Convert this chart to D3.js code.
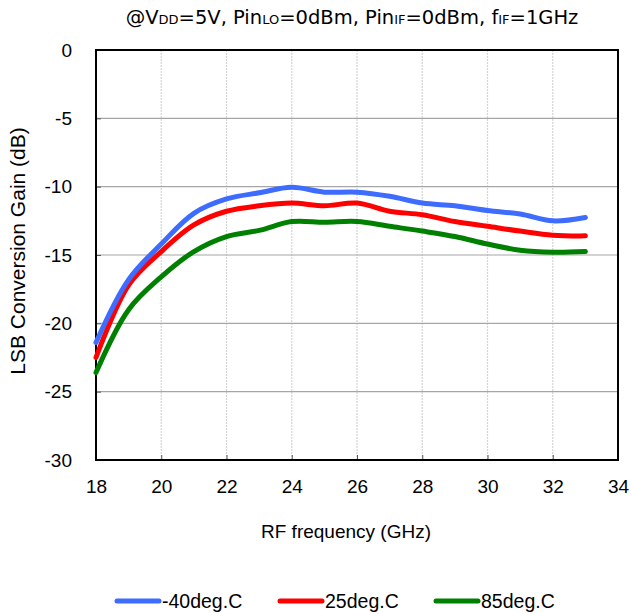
<!DOCTYPE html>
<html>
<head>
<meta charset="utf-8">
<script src="https://cdn.jsdelivr.net/npm/d3@7"></script>
<style>
  body { margin: 0; background: #fff; }
</style>
</head>
<body>
<div id="chart"></div>
<script>
// chart data
var freqs = [18, 19, 20, 21, 22, 23, 24, 25, 26, 27, 28, 29, 30, 31, 32, 33];
var gainM40 = [-21.4, -16.8, -14.2, -11.95, -10.9, -10.45, -10.05, -10.4, -10.4, -10.7, -11.2, -11.4, -11.75, -12.0, -12.5, -12.25];
var gain25 = [-22.5, -17.2, -14.75, -12.8, -11.8, -11.4, -11.2, -11.4, -11.2, -11.8, -12.05, -12.55, -12.9, -13.25, -13.55, -13.6];
var gain85 = [-23.6, -19.0, -16.6, -14.75, -13.65, -13.2, -12.55, -12.6, -12.55, -12.9, -13.25, -13.65, -14.2, -14.65, -14.8, -14.75];
var xTicks = [18, 20, 22, 24, 26, 28, 30, 32, 34];
var yTicks = [0, -5, -10, -15, -20, -25, -30];
var seriesNames = ["-40deg.C", "25deg.C", "85deg.C"];

const width = 631, height = 614;
const margin = {left: 96, right: 13, top: 50, bottom: 154};
const font = "Liberation Sans, Arial, sans-serif";

var svg = d3.select("#chart").append("svg")
    .attr("width", width)
    .attr("height", height)
    .style("font-family", font);

var x = d3.scaleLinear().domain([18, 34]).range([margin.left, width - margin.right]);
var y = d3.scaleLinear().domain([-30, 0]).range([height - margin.bottom, margin.top]);

// vertical grid (dotted, light)
svg.append("g").selectAll("line")
    .data(xTicks.slice(1, -1))
    .enter().append("line")
    .attr("x1", d => x(d)).attr("x2", d => x(d))
    .attr("y1", y(0)).attr("y2", y(-30))
    .attr("stroke", "#d4d4d4")
    .attr("stroke-width", 1.2)
    .attr("stroke-dasharray", "2,1");

// horizontal grid
svg.append("g").selectAll("line")
    .data(yTicks.slice(1, -1))
    .enter().append("line")
    .attr("x1", x(18)).attr("x2", x(34))
    .attr("y1", d => y(d)).attr("y2", d => y(d))
    .attr("stroke", "#a6a6a6")
    .attr("stroke-width", 1.2);

// axes with inward ticks
svg.append("g")
    .attr("transform", "translate(" + x(18) + ",0)")
    .call(d3.axisLeft(y).tickValues(yTicks).tickSize(-5).tickPadding(24).tickFormat(d => String(d)))
    .call(g => g.select(".domain").remove())
    .call(g => g.selectAll("text").style("font-size", "19px").style("font-family", font).attr("fill", "#000"))
    .call(g => g.selectAll("line").attr("stroke", "#555"));

svg.append("g")
    .attr("transform", "translate(0," + y(-30) + ")")
    .call(d3.axisBottom(x).tickValues(xTicks).tickSize(-5).tickPadding(20))
    .call(g => g.select(".domain").remove())
    .call(g => g.selectAll("text").style("font-size", "19px").style("font-family", font).attr("fill", "#000"))
    .call(g => g.selectAll("line").attr("stroke", "#555"));

// plot border
svg.append("rect")
    .attr("x", x(18)).attr("y", y(0))
    .attr("width", x(34) - x(18)).attr("height", y(-30) - y(0))
    .attr("fill", "none")
    .attr("stroke", "#000")
    .attr("stroke-width", 2);

var series = [
    {name: seriesNames[0], values: gainM40, color: "#3d6cff"},
    {name: seriesNames[1], values: gain25, color: "#ff0000"},
    {name: seriesNames[2], values: gain85, color: "#008000"}
];

var line = d3.line()
    .x((d, i) => x(freqs[i]))
    .y(d => y(d))
    .curve(d3.curveCatmullRom.alpha(0.5));

series.slice().reverse().forEach(s => {
    svg.append("path")
        .datum(s.values)
        .attr("d", line)
        .attr("fill", "none")
        .attr("stroke", s.color)
        .attr("stroke-width", 5)
        .attr("stroke-linecap", "round")
        .attr("stroke-linejoin", "round");
});

// title with subscripts
var title = svg.append("text")
    .attr("x", 352).attr("y", 24)
    .attr("text-anchor", "middle")
    .style("font-family", "DejaVu Sans, Verdana, sans-serif")
    .style("font-size", "19.5px")
    .attr("fill", "#000");
var parts = [["@V", false], ["DD", true], ["=5V, Pin", false], ["LO", true], ["=0dBm, Pin", false], ["IF", true], ["=0dBm, f", false], ["IF", true], ["=1GHz", false]];
parts.forEach(p => {
    title.append("tspan").style("font-size", p[1] ? "13px" : "19.5px").text(p[0]);
});

// axis titles
svg.append("text")
    .attr("x", 346).attr("y", 538)
    .attr("text-anchor", "middle")
    .style("font-size", "19px")
    .text("RF frequency (GHz)");

svg.append("text")
    .attr("transform", "translate(25,251) rotate(-90)")
    .attr("text-anchor", "middle")
    .style("font-size", "21px")
    .text("LSB Conversion Gain (dB)");

// legend
var legendX = [117, 280, 436];
series.forEach((s, i) => {
    var g = svg.append("g").attr("transform", "translate(" + legendX[i] + ",601)");
    g.append("line")
        .attr("x1", 0).attr("x2", 42)
        .attr("stroke", s.color)
        .attr("stroke-width", 5)
        .attr("stroke-linecap", "round");
    g.append("text")
        .attr("x", 45).attr("y", 7)
        .style("font-size", "19.5px")
        .text(s.name);
});
</script>
</body>
</html>
